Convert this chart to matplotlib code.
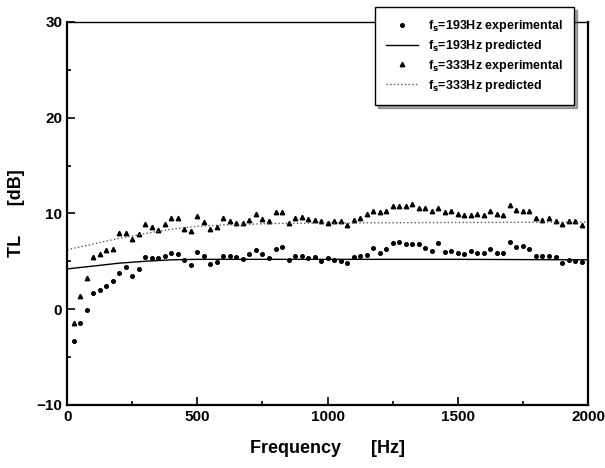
import numpy as np
import matplotlib
matplotlib.use("Agg")
import matplotlib.pyplot as plt
from matplotlib.ticker import MultipleLocator

plt.rcParams['font.family'] = ['Liberation Sans', 'DejaVu Sans']
plt.rcParams['font.weight'] = 'bold'
plt.rcParams['mathtext.default'] = 'bf'

# measured points every 25 Hz (25 ... 1975 Hz)
freq = np.arange(1, 80) * 25

tl_193_exp = [-3.3, -1.5, -0.1, 1.7, 2.0, 2.4, 2.9, 3.8, 4.4, 3.5,
              4.2, 5.4, 5.3, 5.3, 5.6, 5.9, 5.8, 5.1, 4.6, 6.0,
              5.5, 4.7, 4.9, 5.5, 5.5, 5.4, 5.2, 5.8, 6.2, 5.8,
              5.3, 6.3, 6.5, 5.1, 5.6, 5.5, 5.3, 5.4, 5.0, 5.3,
              5.1, 5.0, 4.8, 5.4, 5.5, 5.7, 6.4, 5.9, 6.3, 6.9,
              7.0, 6.8, 6.8, 6.8, 6.4, 6.1, 6.9, 6.0, 6.1, 5.9,
              5.8, 6.1, 5.9, 5.9, 6.3, 5.9, 5.9, 7.0, 6.5, 6.6,
              6.3, 5.5, 5.6, 5.5, 5.4, 4.8, 5.1, 5.0, 4.9]

tl_333_exp = [-1.4, 1.4, 3.2, 5.4, 5.8, 6.2, 6.3, 8.0, 8.0, 7.3,
              7.9, 8.9, 8.6, 8.3, 8.9, 9.5, 9.5, 8.4, 8.2, 9.7,
              9.1, 8.4, 8.6, 9.5, 9.2, 9.0, 9.0, 9.3, 9.9, 9.4,
              9.2, 10.1, 10.1, 9.0, 9.5, 9.6, 9.4, 9.3, 9.2, 9.0,
              9.2, 9.2, 8.8, 9.3, 9.5, 9.9, 10.3, 10.1, 10.3, 10.8,
              10.8, 10.8, 11.0, 10.6, 10.6, 10.3, 10.6, 10.1, 10.3, 9.9,
              9.8, 9.8, 9.9, 9.8, 10.3, 9.9, 9.8, 10.9, 10.4, 10.3,
              10.3, 9.5, 9.3, 9.5, 9.2, 8.9, 9.2, 9.2, 8.8]

# predicted curves
freq_pred = [0, 100, 200, 300, 400, 500, 600, 800, 1000, 1500, 2000]
tl_193_pred = [4.2, 4.5, 4.8, 5.0, 5.15, 5.2, 5.2, 5.2, 5.2, 5.2, 5.15]
tl_333_pred = [6.2, 6.8, 7.4, 7.9, 8.35, 8.65, 8.8, 8.95, 9.0, 9.05, 9.1]

fig = plt.figure(figsize=(6.05, 4.68), dpi=100)
ax = fig.add_axes([0.111, 0.135, 0.861, 0.818])

ax.plot(freq, tl_193_exp, 'o', color='black', markersize=2.6,
        label=r'f$_s$=193Hz experimental')
ax.plot(freq_pred, tl_193_pred, '-', color='black', linewidth=1.0,
        label=r'f$_s$=193Hz predicted')
ax.plot(freq, tl_333_exp, '^', color='black', markersize=3.2,
        label=r'f$_s$=333Hz experimental')
ax.plot(freq_pred, tl_333_pred, ':', color='0.35', linewidth=1.0,
        label=r'f$_s$=333Hz predicted')

ax.set_xlim(0, 2000)
ax.set_ylim(-10, 30)
ax.xaxis.set_major_locator(MultipleLocator(500))
ax.xaxis.set_minor_locator(MultipleLocator(250))
ax.yaxis.set_major_locator(MultipleLocator(10))
ax.yaxis.set_minor_locator(MultipleLocator(5))
ax.tick_params(which='both', direction='in', labelsize=11, width=1.2)
ax.tick_params(which='major', length=6)
ax.tick_params(which='minor', length=3)
for side in ['left', 'bottom', 'right']:
    ax.spines[side].set_linewidth(1.6)
ax.spines['top'].set_linewidth(1.0)

ax.set_xlabel('Frequency      [Hz]', fontsize=13, fontweight='bold', labelpad=12)
ax.set_ylabel('TL      [dB]', fontsize=13, fontweight='bold', labelpad=8)

leg = ax.legend(loc='upper left', bbox_to_anchor=(375 / 605, 1 - 7 / 468),
                bbox_transform=fig.transFigure, borderaxespad=0, fontsize=9,
                frameon=True, fancybox=False, shadow=True, edgecolor='black',
                handlelength=2.5, borderpad=0.9, labelspacing=0.3,
                framealpha=1)
leg.get_frame().set_linewidth(1.0)

fig.savefig('out.png', dpi=100)
